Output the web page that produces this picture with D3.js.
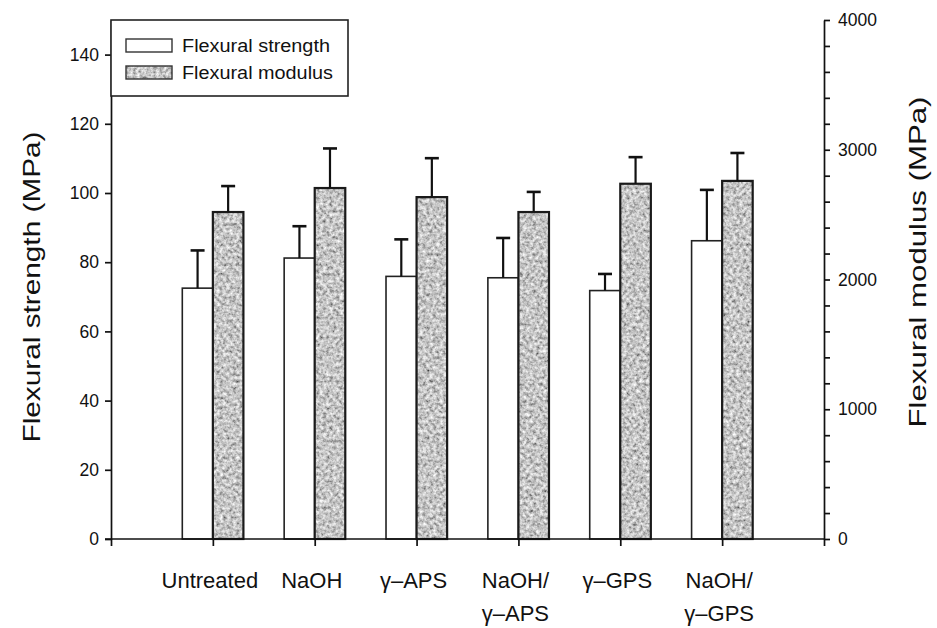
<!DOCTYPE html>
<html>
<head>
<meta charset="utf-8">
<script src="https://cdn.jsdelivr.net/npm/d3@7"></script>
<style>
  html, body { margin: 0; padding: 0; background: #fff; }
  svg { display: block; }
  text { font-family: "Liberation Sans", Arial, sans-serif; fill: #111; }
</style>
</head>
<body>
<svg id="chart" width="937" height="628"></svg>
<script>
// Treatments (each entry split into the lines shown under the axis)
const categories = [
  ["Untreated"],
  ["NaOH"],
  ["γ–APS"],
  ["NaOH/", "γ–APS"],
  ["γ–GPS"],
  ["NaOH/", "γ–GPS"]
];
// Flexural strength (MPa), left axis
const strength    = [72.5, 81.2, 75.9, 75.5, 71.8, 86.2];
const strengthErr = [10.9, 9.2, 10.7, 11.5, 4.8, 14.7];
// Flexural modulus (MPa), right axis
const modulus     = [2520, 2705, 2635, 2520, 2738, 2760];
const modulusErr  = [200, 305, 300, 155, 205, 215];

const leftTicks  = [0, 20, 40, 60, 80, 100, 120, 140];
const rightTicks = [0, 1000, 2000, 3000, 4000];
const seriesNames = ["Flexural strength", "Flexural modulus"];

const svg = d3.select("#chart");
const defs = svg.append("defs");

// mottled grey fill for the modulus bars
const f = defs.append("filter").attr("id", "grain")
  .attr("x", "0%").attr("y", "0%").attr("width", "100%").attr("height", "100%");
f.append("feTurbulence").attr("type", "fractalNoise")
  .attr("baseFrequency", "0.3").attr("numOctaves", 3).attr("seed", 7).attr("result", "n");
f.append("feColorMatrix").attr("in", "n").attr("type", "matrix")
  .attr("values", "1.2 0 0 0 -0.04  1.2 0 0 0 -0.04  1.2 0 0 0 -0.04  0 0 0 0 1")
  .attr("result", "g");
f.append("feComposite").attr("in", "g").attr("in2", "SourceAlpha").attr("operator", "in");

const x0 = 111, x1 = 824, yTop = 20, yBase = 539;
const x = d3.scaleLinear().domain([0, categories.length + 1]).range([x0, x1]);
const yL = d3.scaleLinear().domain([0, 150]).range([yBase, yTop]);
const yR = d3.scaleLinear().domain([0, 4000]).range([yBase, yTop]);
const barW = x(0.3) - x(0);

const idx = d3.range(categories.length);

// strength bars (white)
const gS = svg.append("g");
gS.selectAll("rect").data(idx).join("rect")
  .attr("x", i => x(i + 1) - barW).attr("width", barW)
  .attr("y", i => yL(strength[i])).attr("height", i => yBase - yL(strength[i]))
  .attr("fill", "#fff").attr("stroke", "#222").attr("stroke-width", 1.6);

// modulus bars (textured grey)
const gM = svg.append("g");
gM.selectAll("rect.fill").data(idx).join("rect").attr("class", "fill")
  .attr("x", i => x(i + 1)).attr("width", barW)
  .attr("y", i => yR(modulus[i])).attr("height", i => yBase - yR(modulus[i]))
  .attr("fill", "#999").attr("filter", "url(#grain)");
gM.selectAll("rect.edge").data(idx).join("rect").attr("class", "edge")
  .attr("x", i => x(i + 1)).attr("width", barW)
  .attr("y", i => yR(modulus[i])).attr("height", i => yBase - yR(modulus[i]))
  .attr("fill", "none").attr("stroke", "#1a1a1a").attr("stroke-width", 2.2);

// upward error bars
function errorBars(g, cx, yTopVal, yErrVal) {
  const e = g.append("g").attr("stroke", "#111");
  e.selectAll("line.v").data(idx).join("line").attr("class", "v")
    .attr("x1", cx).attr("x2", cx)
    .attr("y1", yTopVal).attr("y2", yErrVal).attr("stroke-width", 2.2);
  e.selectAll("line.c").data(idx).join("line").attr("class", "c")
    .attr("x1", i => cx(i) - 7).attr("x2", i => cx(i) + 7)
    .attr("y1", yErrVal).attr("y2", yErrVal).attr("stroke-width", 2.6);
}
errorBars(gS, i => x(i + 1) - barW / 2, i => yL(strength[i]), i => yL(strength[i] + strengthErr[i]));
errorBars(gM, i => x(i + 1) + barW / 2, i => yR(modulus[i]), i => yR(modulus[i] + modulusErr[i]));

// axes
const axisStyle = g => {
  g.selectAll("path, line").attr("stroke", "#111").attr("stroke-width", 1.7);
  g.selectAll("text").attr("font-size", 17.5).attr("fill", "#111")
    .attr("font-family", "'Liberation Sans', Arial, sans-serif");
};

svg.append("g").attr("transform", `translate(${x0},0)`)
  .call(d3.axisLeft(yL).tickValues(leftTicks).tickSize(6).tickSizeOuter(0).tickPadding(6))
  .call(axisStyle);

svg.append("g").attr("transform", `translate(${x1},0)`)
  .call(d3.axisRight(yR).tickValues(d3.range(0, 4001, 200)).tickSize(6).tickSizeOuter(0)
    .tickPadding(8).tickFormat(d => rightTicks.includes(d) ? d : ""))
  .call(axisStyle);

const xa = svg.append("g").attr("transform", `translate(0,${yBase})`)
  .call(d3.axisBottom(x).tickValues(d3.range(0, categories.length + 2)).tickSize(7)
    .tickSizeOuter(0).tickFormat(""))
  .call(axisStyle);
xa.select("path.domain").attr("d", `M${x0 - 6},0H${x1}`);

// category labels
const lab = svg.append("g").attr("text-anchor", "middle");
idx.forEach(i => {
  categories[i].forEach((line, k) => {
    lab.append("text").attr("x", x(i + 1) - 3).attr("y", 588 + k * 33)
      .attr("font-size", 22).text(line);
  });
});

// axis titles
svg.append("text").attr("transform", `translate(40,287) rotate(-90)`)
  .attr("text-anchor", "middle").attr("font-size", 24)
  .attr("textLength", 311).attr("lengthAdjust", "spacingAndGlyphs")
  .text("Flexural strength (MPa)");
svg.append("text").attr("transform", `translate(926,262) rotate(-90)`)
  .attr("text-anchor", "middle").attr("font-size", 24)
  .attr("textLength", 331).attr("lengthAdjust", "spacingAndGlyphs")
  .text("Flexural modulus (MPa)");

// legend
const lg = svg.append("g");
lg.append("rect").attr("x", x0).attr("y", yTop).attr("width", 237).attr("height", 76)
  .attr("fill", "#fff").attr("stroke", "#222").attr("stroke-width", 1.6);
lg.append("rect").attr("x", 126).attr("y", 39).attr("width", 46).attr("height", 13)
  .attr("fill", "#fff").attr("stroke", "#333").attr("stroke-width", 1.4);
lg.append("rect").attr("x", 126).attr("y", 66).attr("width", 46).attr("height", 13)
  .attr("fill", "#999").attr("filter", "url(#grain)");
lg.append("rect").attr("x", 126).attr("y", 66).attr("width", 46).attr("height", 13)
  .attr("fill", "none").attr("stroke", "#333").attr("stroke-width", 1.4);
seriesNames.forEach((s, k) => {
  lg.append("text").attr("x", 182).attr("y", 52 + k * 27).attr("font-size", 17.5)
    .attr("textLength", k === 0 ? 148 : 151).attr("lengthAdjust", "spacingAndGlyphs")
    .text(s);
});
</script>
</body>
</html>
